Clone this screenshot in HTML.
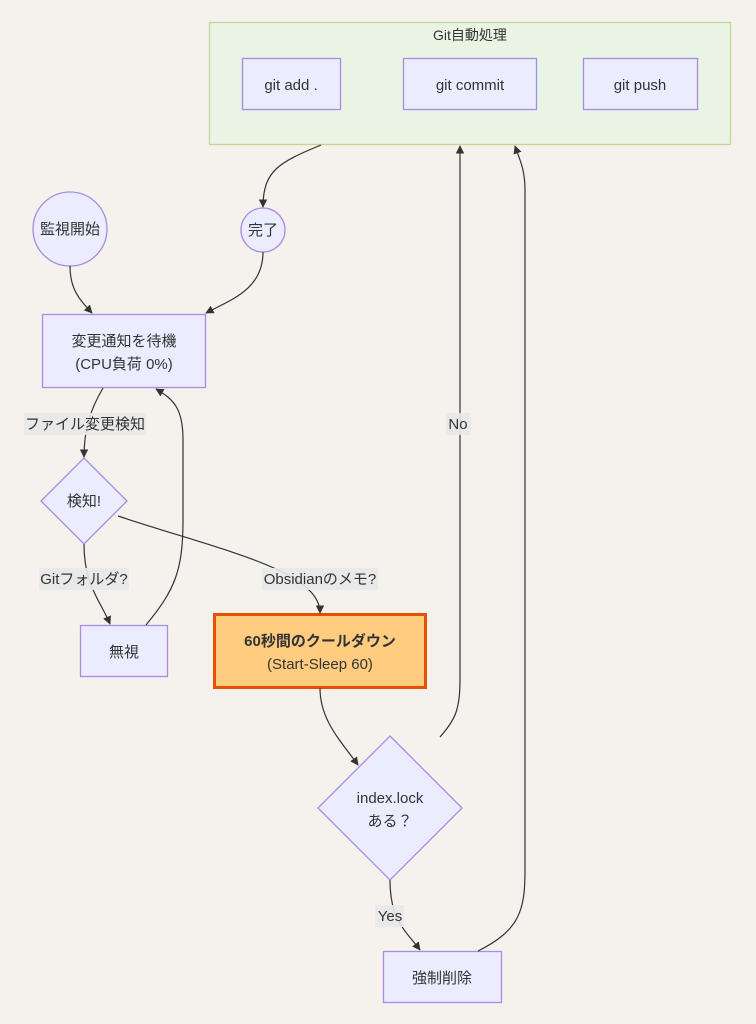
<!DOCTYPE html>
<html><head><meta charset="utf-8"><style>
html,body{margin:0;padding:0;background:#f5f2ed;}
svg{display:block;font-family:"Liberation Sans","Noto Sans CJK JP",sans-serif;}
</style></head><body>
<svg width="756" height="1024" viewBox="0 0 756 1024" xmlns="http://www.w3.org/2000/svg">
<defs><marker id="a" viewBox="0 0 10 10" refX="9" refY="5" markerWidth="7" markerHeight="7" orient="auto"><path d="M0,0L10,5L0,10z" fill="#333"/></marker></defs>
<rect x="0" y="0" width="756" height="1024" fill="#f5f2ed"/>
<rect x="209.5" y="22.5" width="521" height="122" fill="#e8f4e4" stroke="#c3d696" stroke-width="1.3"/>
<text x="470" y="40" font-size="14" text-anchor="middle" fill="#333">Git自動処理</text>
<g fill="#ececff" stroke="#a98be0" stroke-width="1.3">
<rect x="242.5" y="58.5" width="98" height="51"/>
<rect x="403.5" y="58.5" width="133" height="51"/>
<rect x="583.5" y="58.5" width="114" height="51"/>
<circle cx="70" cy="229" r="37"/>
<circle cx="263" cy="230" r="22"/>
<rect x="42.5" y="314.5" width="163" height="73"/>
<polygon points="84,458 127,501 84,544 41,501"/>
<rect x="80.5" y="625.5" width="87" height="51"/>
<polygon points="390,736 462,808 390,880 318,808"/>
<rect x="383.5" y="951.5" width="118" height="51"/>
</g>
<rect x="214.5" y="614.5" width="211" height="73" fill="#ffcc80" stroke="#e65100" stroke-width="3"/>
<g fill="none" stroke="#333" stroke-width="1.2" marker-end="url(#a)">
<path d="M321,145 C280,162 263,170 263,207"/>
<path d="M70,266 C70,290 80,300 92,313"/>
<path d="M263,252 C263,290 230,300 206,313"/>
<path d="M103,388 C90,410 84,430 84,457"/>
<path d="M84,544 C84,585 100,600 110,624"/>
<path d="M118,516 C220,550 320,570 320,613"/>
<path d="M146,625 C175,590 183,570 183,520 L183,440 C183,410 175,400 156,389"/>
<path d="M320,688 C320,720 340,740 358,765"/>
<path d="M440,737 C455,720 460,710 460,680 L460,146"/>
<path d="M390,880 C390,920 405,930 420,950"/>
<path d="M478,951 C520,930 525,910 525,870 L525,190 C525,170 520,160 515,146"/>
</g>
<g fill="#e8e8e8" opacity="0.9">
<rect x="24" y="413" width="122" height="22"/>
<rect x="39" y="568" width="90" height="22"/>
<rect x="262" y="568" width="116" height="22"/>
<rect x="446" y="413" width="25" height="22"/>
<rect x="375" y="905" width="29" height="22"/>
</g>
<g font-size="15" fill="#333" text-anchor="middle">
<text x="291" y="90">git add .</text>
<text x="470" y="90">git commit</text>
<text x="640" y="90">git push</text>
<text x="70" y="234">監視開始</text>
<text x="263" y="235">完了</text>
<text x="124" y="346">変更通知を待機</text>
<text x="124" y="369">(CPU負荷 0%)</text>
<text x="84" y="506">検知!</text>
<text x="124" y="657">無視</text>
<text x="320" y="646" font-weight="bold">60秒間のクールダウン</text>
<text x="320" y="669">(Start-Sleep 60)</text>
<text x="390" y="803">index.lock</text>
<text x="390" y="826">ある？</text>
<text x="442" y="983">強制削除</text>
<text x="85" y="429">ファイル変更検知</text>
<text x="84" y="584">Gitフォルダ?</text>
<text x="320" y="584">Obsidianのメモ?</text>
<text x="458" y="429">No</text>
<text x="390" y="921">Yes</text>
</g>
</svg>
</body></html>
